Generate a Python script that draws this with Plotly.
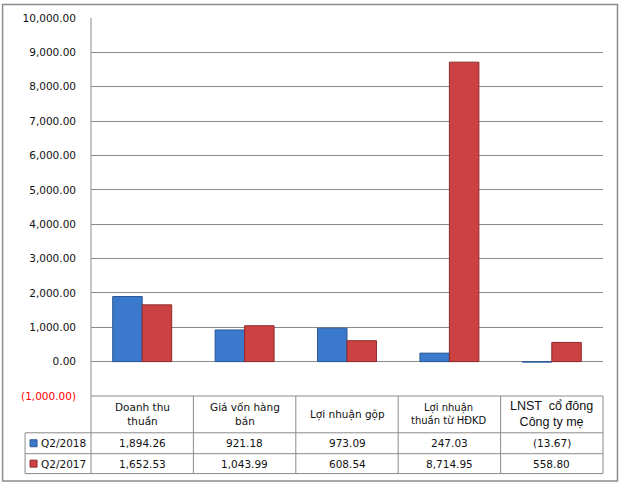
import plotly.graph_objects as go

categories = ['Doanh thu<br>thuần', 'Giá vốn hàng<br>bán', 'Lợi nhuận gộp',
              'Lợi nhuận<br>thuần từ HĐKD', 'LNST  cổ đông<br>Công ty mẹ']
series_names = ['Q2/2018', 'Q2/2017']
q2_2018 = [1894.26, 921.18, 973.09, 247.03, -13.67]
q2_2017 = [1652.53, 1043.99, 608.54, 8714.95, 558.80]
tick_vals = [-1000, 0, 1000, 2000, 3000, 4000, 5000, 6000, 7000, 8000, 9000, 10000]

W, H = 622, 487
L, R, T, B = 91, 603.5, 16, 396

def px(x):
    return (x - L) / (R - L)

def py(y):
    return (B - y) / (B - T)

def fmt(v):
    s = f'{abs(v):,.2f}'
    return f'({s})' if v < 0 else s

def tick_label(v):
    if v < 0:
        return f'<span style="color:#ff0000">{fmt(v)}</span>'
    return fmt(v)

blue, blue_dark = '#3b79cc', '#2a5694'
red, red_dark = '#cc4242', '#8f2a2a'
grid = '#8a8a8a'
font = 'DejaVu Sans'

fig = go.Figure()
fig.add_trace(go.Bar(x=list(range(5)), y=q2_2018, name=series_names[0],
                     marker=dict(color=blue, line=dict(color=blue_dark, width=1))))
fig.add_trace(go.Bar(x=list(range(5)), y=q2_2017, name=series_names[1],
                     marker=dict(color=red, line=dict(color=red_dark, width=1))))

shapes = []
def line(x0, y0, x1, y1, color=grid, w=1):
    shapes.append(dict(type='line', xref='paper', yref='paper',
                       x0=px(x0), y0=py(y0), x1=px(x1), y1=py(y1),
                       line=dict(color=color, width=w)))

# table grid
rows_y = [396, 433, 454, 474]
cols_x = [L + i * (R - L) / 5 for i in range(6)]
line(L, 396, R, 396)
for y in rows_y[1:]:
    line(25, y, R, y)
line(25, 433, 25, 474)
line(L, T, L, 474)
for x in cols_x[1:]:
    line(x, 396, x, 474)
# outer frame
shapes.append(dict(type='rect', xref='paper', yref='paper',
                   x0=px(2.5), y0=py(2.5), x1=px(618), y1=py(481.5),
                   line=dict(color='#8c8c8c', width=1.5)))

annotations = []
def text(x, y, s, size=10.5, fam=font, anchor='center'):
    annotations.append(dict(xref='paper', yref='paper', x=px(x), y=py(y), text=s,
                            showarrow=False, xanchor=anchor, yanchor='middle',
                            font=dict(family=fam, size=size, color='#111111')))

for i, c in enumerate(categories):
    cx = (cols_x[i] + cols_x[i + 1]) / 2
    if i == 3:
        text(cx, 414.5, c, size=10)
    elif i == 4:
        text(cx, 414.5, c, size=12.5, fam='Liberation Sans')
    else:
        text(cx, 414.5, c)
    text(cx, 443.5, fmt(q2_2018[i]))
    text(cx, 464, fmt(q2_2017[i]))

# legend keys in table
for ry, col, dk, name in [(443.5, blue, blue_dark, series_names[0]),
                          (464, red, red_dark, series_names[1])]:
    shapes.append(dict(type='rect', xref='paper', yref='paper',
                       x0=px(30), y0=py(ry - 3.5), x1=px(37), y1=py(ry + 3.5),
                       fillcolor=col, line=dict(color=dk, width=1)))
    text(39, ry, name, anchor='left')

fig.update_layout(
    width=W, height=H,
    margin=dict(l=L, r=W - R, t=T, b=H - B),
    paper_bgcolor='white', plot_bgcolor='white',
    barmode='group', bargap=0.424, bargroupgap=0,
    showlegend=False,
    font=dict(family=font, size=10.5, color='#111111'),
    xaxis=dict(range=[-0.5, 4.5], showticklabels=False, showgrid=False,
               zeroline=False, showline=False, fixedrange=True),
    yaxis=dict(range=[-1000, 10000], tickvals=tick_vals,
               ticktext=[tick_label(v) for v in tick_vals],
               showgrid=True, gridcolor=grid, gridwidth=1,
               zeroline=False, showline=False, ticks='',
               ticklabelstandoff=14, tickfont=dict(size=10.5)),
    shapes=shapes, annotations=annotations,
)

fig.write_html('out.html', config={'displayModeBar': False},
               post_script="document.body.style.margin='0';")
